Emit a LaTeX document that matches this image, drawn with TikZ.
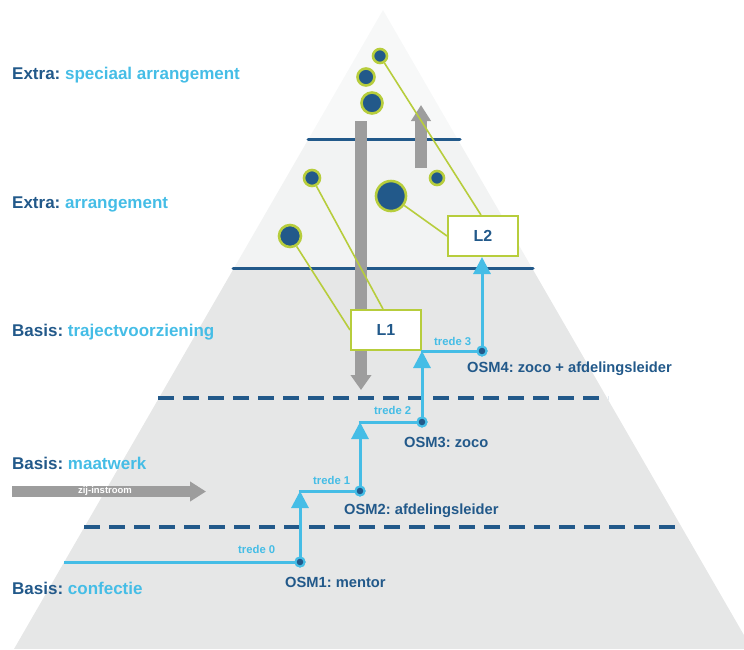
\documentclass[tikz,border=0pt]{standalone}
\usepackage{fontspec}
\setmainfont{Liberation Sans}
\usetikzlibrary{arrows.meta}
\frenchspacing
\definecolor{dblue}{HTML}{22598A}
\definecolor{lblue}{HTML}{45BDE6}
\definecolor{lgreen}{HTML}{B7CD3C}
\definecolor{bgA}{HTML}{F7F8F8}
\definecolor{bgB}{HTML}{F2F3F3}
\definecolor{bgC}{HTML}{E6E7E7}
\definecolor{gbar}{HTML}{9D9D9D}
\begin{document}
\begin{tikzpicture}[x=1pt,y=-1pt,
  circ/.style={circle, fill=dblue, draw=lgreen, line width=2.6pt, inner sep=0pt, minimum size=#1},
  lbox/.style={draw=lgreen, fill=white, line width=2pt, minimum width=70pt, minimum height=40pt, inner sep=0pt, font=\bfseries\fontsize{16}{18}\selectfont, text=dblue},
  gline/.style={draw=lgreen, line width=1.6pt},
  sline/.style={draw=dblue, line width=3pt, line cap=round},
  dline/.style={draw=dblue, line width=3.5pt, dash pattern=on 16pt off 9pt},
  bstep/.style={draw=lblue, line width=3pt},
  bup/.style={bstep, -{Triangle[width=17pt,length=17pt]}},
  odot/.style={circle, fill=dblue, draw=lblue, line width=2pt, minimum size=9pt, inner sep=0pt},
  osm/.style={anchor=west, inner sep=0pt, font=\frenchspacing\bfseries\fontsize{14.7}{17}\selectfont, text=dblue},
  trede/.style={anchor=west, inner sep=0pt, font=\bfseries\fontsize{11.3}{13}\selectfont, text=lblue},
  side/.style={anchor=west, inner sep=0pt, font=\frenchspacing\bfseries\fontsize{17}{20}\selectfont, text=lblue},
]
\useasboundingbox (0,0) rectangle (744,649);
% pyramid bands
\begin{scope}
\clip (383,10) -- (14,649) -- (752,649) -- cycle;
\fill[bgA] (0,0) rectangle (744,139);
\fill[bgB] (0,139) rectangle (744,268);
\fill[bgC] (0,268) rectangle (744,649);
\end{scope}
% level lines
\draw[sline] (308,139) -- (460,139);
\draw[sline] (233,268) -- (533,268);
\draw[dline] (158,398) -- (608,398);
\draw[dline] (84,527) -- (683,527);
% gray arrows
\coordinate (gdTop) at (361,121);
\coordinate (gdTip) at (361,390);
\draw[gbar, line width=12pt, -{Triangle[width=20pt,length=15pt]}] (gdTop) -- (gdTip);
\coordinate (guBot) at (421,168);
\coordinate (guTip) at (421,105);
\draw[gbar, line width=12pt, -{Triangle[width=19pt,length=16pt]}] (guBot) -- (guTip);
% boxes
\node[lbox] (L1) at (386,330) {L1};
\node[lbox] (L2) at (483,236) {L2};
% circles
\node[circ=14pt] (c1) at (380,56) {};
\node[circ=17pt] (c2) at (366,77) {};
\node[circ=21pt] (c3) at (372,103) {};
\node[circ=16pt] (c4) at (312,178) {};
\node[circ=14pt] (c5) at (437,178) {};
\node[circ=30pt] (c6) at (391,196) {};
\node[circ=22pt] (c7) at (290,236) {};
% green connectors
\draw[gline] (c1) -- ([xshift=-2pt]L2.north);
\draw[gline] (c6) -- (L2.west);
\draw[gline] (c4) -- ([xshift=-3pt]L1.north);
\draw[gline] (c7) -- (L1.west);
% redraw boxes on top of the lines
\node[lbox] at (L1) {L1};
\node[lbox] at (L2) {L2};
% steps
\coordinate (s0) at (64,562);
\node[odot] (o1) at (300,562) {};
\coordinate (k1) at (300,491);
\node[odot] (o2) at (360,491) {};
\coordinate (k2) at (360,422);
\node[odot] (o3) at (422,422) {};
\coordinate (k3) at (422,351);
\node[odot] (o4) at (482,351) {};
\draw[bstep] (s0) -- (o1);
\draw[bup] (o1) -- (k1);
\draw[bstep] ([xshift=-1.5pt]k1) -- (o2);
\draw[bup] (o2) -- (k2);
\draw[bstep] ([xshift=-1.5pt]k2) -- (o3);
\draw[bup] (o3) -- (k3);
\draw[bstep] ([xshift=-1.5pt]k3) -- (o4);
\draw[bup] (o4) -- ([xshift=-1pt]L2.south);
\node[odot] at (o1) {};
\node[odot] at (o2) {};
\node[odot] at (o3) {};
\node[odot] at (o4) {};
% step labels
\node[trede] (t0) at (238,549) {trede 0};
\node[trede] (t1) at (313,480) {trede 1};
\node[trede] (t2) at (374,410) {trede 2};
\node[trede] (t3) at (434,341) {trede 3};
\node[osm] (n1) at (285,582) {OSM1: mentor};
\node[osm] (n2) at (344,511) {OSM2: afdelingsleider};
\node[osm] (n3) at (404,442) {OSM3: zoco};
\node[osm] (n4) at (467,369) {OSM4: zoco + afdelingsleider};
% side labels
\node[side] (e1) at (12,75) {\textcolor{dblue}{Extra:} speciaal arrangement};
\node[side] (e2) at (12,204) {\textcolor{dblue}{Extra:} arrangement};
\node[side] (b1) at (12,332) {\textcolor{dblue}{Basis:} trajectvoorziening};
\node[side] (b2) at (12,463) {\textcolor{dblue}{Basis:} maatwerk};
\node[side] (b3) at (12,588) {\textcolor{dblue}{Basis:} confectie};
% zij-instroom
\coordinate (zs) at (12,491.5);
\coordinate (ze) at (206,491.5);
\draw[gbar, line width=11pt, -{Triangle[width=19pt,length=16pt]}] (zs) -- (ze);
\node[text=white, font=\bfseries\fontsize{9.5}{10}\selectfont] (zi) at (105,491.5) {zij-instroom};
\end{tikzpicture}
\end{document}
